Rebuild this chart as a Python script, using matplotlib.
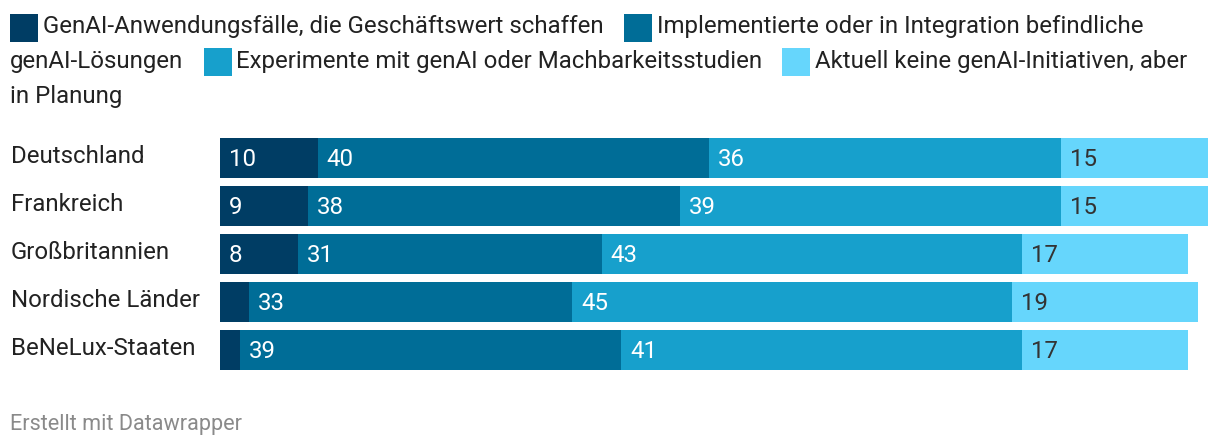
import matplotlib
matplotlib.use("Agg")
import matplotlib.pyplot as plt
from matplotlib.patches import Rectangle
from matplotlib.transforms import offset_copy

plt.rcParams['font.family'] = ['Roboto', 'DejaVu Sans']

# ---- data ----
categories = ["Deutschland", "Frankreich", "Großbritannien", "Nordische Länder", "BeNeLux-Staaten"]
series_labels = [
    "GenAI-Anwendungsfälle, die Geschäftswert schaffen",
    "Implementierte oder in Integration befindliche genAI-Lösungen",
    "Experimente mit genAI oder Machbarkeitsstudien",
    "Aktuell keine genAI-Initiativen, aber in Planung",
]
value_usecases = [10, 9, 8, 3, 2]
value_implemented = [40, 38, 31, 33, 39]
value_experiments = [36, 39, 43, 45, 41]
value_planning = [15, 15, 17, 19, 17]
footer = "Erstellt mit Datawrapper"

series = [value_usecases, value_implemented, value_experiments, value_planning]
colors = ["#003d64", "#006d97", "#17a0cc", "#66d6fc"]
label_colors = ["white", "white", "white", "#333333"]

W, H = 1220, 446
fig = plt.figure(figsize=(W / 100, H / 100), dpi=100)

def fx(px):
    return px / W

def fy(py):
    return 1 - py / H

ax_left, ax_right = 220, 1208
ax_top, ax_bottom = 134, 374
ax = fig.add_axes([fx(ax_left), fy(ax_bottom), (ax_right - ax_left) / W, (ax_bottom - ax_top) / H])
ax.set_xlim(0, 101)
ax.set_ylim(len(categories), 0)
ax.axis("off")

fs = 17.3
ypos = [i + 0.5 for i in range(len(categories))]
lefts = [0] * len(categories)
val_tr = offset_copy(ax.transData, fig=fig, x=9, y=-8, units='dots')
for s, vals in enumerate(series):
    ax.barh(ypos, vals, left=lefts, height=40 / 48, color=colors[s], linewidth=0)
    for i, v in enumerate(vals):
        if v >= 5:
            ax.text(lefts[i], ypos[i], str(v), transform=val_tr, ha='left', va='baseline',
                    fontsize=fs, color=label_colors[s])
    lefts = [l + v for l, v in zip(lefts, vals)]

for i, c in enumerate(categories):
    yc = ax_top + 24 + 48 * i
    fig.text(fx(11), fy(yc + 5), c, ha='left', va='baseline', fontsize=fs, color='#222222')

sq = 28
def legend_square(x, ytop, color):
    fig.patches.append(Rectangle((fx(x), fy(ytop + sq)), sq / W, sq / H, transform=fig.transFigure,
                                 facecolor=color, edgecolor='none'))

def ltext(x, base, s):
    fig.text(fx(x), fy(base), s, ha='left', va='baseline', fontsize=fs, color='#222222')

b1, b2, b3 = 33, 68, 103
legend_square(10, 14, colors[0]); ltext(43, b1, series_labels[0])
l1a, l1b = series_labels[1].rsplit(" ", 1)
legend_square(624, 14, colors[1]); ltext(657, b1, l1a); ltext(10, b2, l1b)
legend_square(204, 48, colors[2]); ltext(236, b2, series_labels[2])
l3a, l3b = series_labels[3].split(" in ", 1)
legend_square(782, 48, colors[3]); ltext(815, b2, l3a); ltext(10, b3, "in " + l3b)

fig.text(fx(10), fy(430), footer, ha='left', va='baseline', fontsize=15.6, color='#8a8a8a')

fig.savefig("out.png", dpi=100, facecolor='white')
